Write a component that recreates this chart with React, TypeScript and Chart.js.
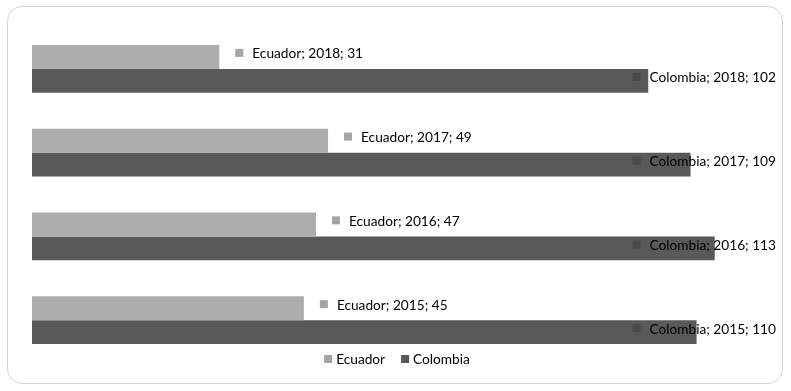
import React, { useEffect, useRef } from "react";
import { Chart, registerables } from "chart.js";

Chart.register(...registerables);

const categories = ["2018", "2017", "2016", "2015"];
const ecuadorValues = [31, 49, 47, 45];
const colombiaValues = [102, 109, 113, 110];
const seriesNames = ["Ecuador", "Colombia"];

const barColors = ["#ADADAD", "#595959"];
const keyColors = ["#A5A5A5", "#4A4A4A"];
const legendColors = ["#A5A5A5", "#595959"];
const FONT = "13.7px Lato, 'Open Sans', sans-serif";

const labelPlugin = {
  id: "barLabels",
  afterDatasetsDraw(chart: any) {
    const ctx = chart.ctx;
    ctx.save();
    ctx.font = FONT;
    ctx.textBaseline = "middle";
    chart.data.datasets.forEach((ds: any, di: number) => {
      const meta = chart.getDatasetMeta(di);
      meta.data.forEach((bar: any, i: number) => {
        const text = `${ds.label}; ${chart.data.labels[i]}; ${ds.data[i]}`;
        const w = ctx.measureText(text).width;
        let tx = bar.x + 33;
        if (tx + w > 776) tx = 776 - w;
        const sx = tx - 17;
        const cy = bar.y - 4;
        ctx.fillStyle = keyColors[di];
        ctx.fillRect(sx, cy - 4, 8, 8);
        ctx.fillStyle = "#000";
        ctx.fillText(text, tx, cy + 1);
      });
    });
    ctx.restore();
  },
  afterDraw(chart: any) {
    const ctx = chart.ctx;
    ctx.save();
    ctx.font = FONT;
    ctx.textBaseline = "middle";
    const items = chart.data.datasets.map((ds: any, di: number) => ({
      label: ds.label,
      color: legendColors[di],
      w: 8 + 4 + ctx.measureText(ds.label).width,
    }));
    const gap = 16;
    const total = items.reduce((a: number, it: any) => a + it.w, 0) + gap * (items.length - 1);
    let x = 397 - total / 2;
    const cy = 359;
    items.forEach((it: any) => {
      ctx.fillStyle = it.color;
      ctx.fillRect(x, cy - 4, 8, 8);
      ctx.fillStyle = "#000";
      ctx.fillText(it.label, x + 12, cy + 1);
      x += it.w + gap;
    });
    ctx.restore();
  },
};

export default function App() {
  const ref = useRef<HTMLCanvasElement>(null);
  useEffect(() => {
    if (!ref.current) return;
    const chart = new Chart(ref.current, {
      type: "bar",
      data: {
        labels: categories,
        datasets: [
          {
            label: seriesNames[0],
            data: ecuadorValues,
            backgroundColor: barColors[0],
            categoryPercentage: 0.573,
            barPercentage: 1,
          },
          {
            label: seriesNames[1],
            data: colombiaValues,
            backgroundColor: barColors[1],
            categoryPercentage: 0.573,
            barPercentage: 1,
          },
        ],
      },
      options: {
        indexAxis: "y",
        responsive: false,
        animation: false,
        devicePixelRatio: 1,
        layout: { padding: { left: 32, right: 34, top: 27, bottom: 29 } },
        scales: {
          x: { display: false, min: 0, max: 120 },
          y: { display: false },
        },
        plugins: {
          legend: { display: false },
          tooltip: { enabled: false },
        },
      },
      plugins: [labelPlugin],
    } as any);
    return () => chart.destroy();
  }, []);
  return (
    <div style={{ position: "absolute", left: 0, top: 0, width: 791, height: 391, background: "#fff" }}>
      <div
        style={{
          position: "absolute",
          left: 7,
          top: 6,
          width: 776,
          height: 378,
          boxSizing: "border-box",
          border: "1px solid #D4D4D4",
          borderRadius: 15,
        }}
      />
      <canvas ref={ref} width={791} height={391} style={{ position: "absolute", left: 0, top: 0 }} />
    </div>
  );
}
